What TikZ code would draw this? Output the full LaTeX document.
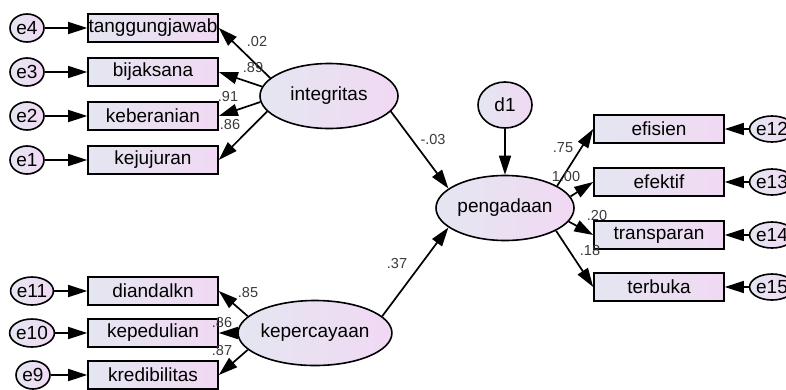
\documentclass[tikz,border=0pt]{standalone}
\usepackage{fontspec}
\setmainfont{Liberation Sans}
\usetikzlibrary{arrows.meta,shapes.geometric}
\definecolor{fillL}{HTML}{E4E6F1}
\definecolor{fillR}{HTML}{F1D9F3}
\definecolor{labgray}{HTML}{3A3A3A}
\begin{document}
\begin{tikzpicture}[x=1pt,y=-1pt,
  obs/.style={draw, line width=1.6pt, minimum width=130pt, minimum height=28pt, inner sep=0pt,
    left color=fillL, right color=fillR, font=\fontsize{19}{21}\selectfont},
  lat/.style={ellipse, draw, line width=1.6pt, inner sep=0pt, minimum width=138pt, minimum height=65pt,
    left color=fillL, right color=fillR, font=\fontsize{19}{21}\selectfont},
  err/.style={ellipse, draw, line width=1.6pt, inner sep=0pt, minimum width=34pt, minimum height=28pt,
    left color=fillL, right color=fillR, font=\fontsize{19}{21}\selectfont},
  arr/.style={line width=1.7pt, -{Triangle[length=19pt,width=12pt]}},
  lbl/.style={font=\fontsize{14.5}{16}\selectfont, text=labgray, inner sep=0pt}]
\useasboundingbox (0,0) rectangle (786,389);

% latent variables
\node[lat] (integ) at (329,96) {integritas};
\node[lat] (keper) at (315,333) {kepercayaan};
\node[lat] (peng) at (505,208) {pengadaan};
\node[err, minimum width=54pt, minimum height=46pt] (d1) at (505,105) {d1};

% left upper indicators
\node[obs] (tg) at (153,28) {tanggungjawab};
\node[obs] (bj) at (153,72) {bijaksana};
\node[obs] (kb) at (153,116) {keberanian};
\node[obs] (kj) at (153,160) {kejujuran};
\node[err] (e4) at (27,28) {e4};
\node[err] (e3) at (27,72) {e3};
\node[err] (e2) at (27,116) {e2};
\node[err] (e1) at (27,160) {e1};

% left lower indicators
\node[obs] (di) at (153,291) {diandalkn};
\node[obs] (kp) at (153,333) {kepedulian};
\node[obs] (kr) at (153,375) {kredibilitas};
\node[err] (e11) at (32,291) {e11};
\node[err] (e10) at (32,333) {e10};
\node[err] (e9) at (33,375) {e9};

% right indicators
\node[obs] (efs) at (659,129) {efisien};
\node[obs] (efk) at (659,182) {efektif};
\node[obs] (tr) at (659,235) {transparan};
\node[obs] (tb) at (659,287) {terbuka};
\node[err, minimum width=30pt, minimum height=26pt] (e12) at (772,129) {e12};
\node[err, minimum width=30pt, minimum height=26pt] (e13) at (772,182) {e13};
\node[err, minimum width=30pt, minimum height=26pt] (e14) at (772,235) {e14};
\node[err, minimum width=30pt, minimum height=26pt] (e15) at (772,287) {e15};

% error arrows
\foreach \e/\b in {e4/tg,e3/bj,e2/kb,e1/kj,e11/di,e10/kp,e9/kr,e12/efs,e13/efk,e14/tr,e15/tb}
  \draw[arr] (\e) -- (\b);

% loadings
\draw[arr] (integ.163) -- (tg.east);
\draw[arr] (integ.172) -- (bj.east);
\draw[arr] (integ.185) -- (kb.east);
\draw[arr] (integ.194) -- (kj.east);
\draw[arr] (keper.166) -- (di.east);
\draw[arr] (keper.180) -- (kp.east);
\draw[arr] (keper.194) -- (kr.east);
\draw[arr] (peng.23) -- (efs.west);
\draw[arr] (peng.10) -- (efk.west);
\draw[arr] (peng.-12) -- (tr.west);
\draw[arr] (peng.-24) -- (tb.west);

% structural
\draw[arr] (integ.346) -- (peng.161);
\draw[arr] (keper.14) -- (peng.199);
\draw[arr] (d1) -- (peng);

% labels
\node[lbl] (l1) at (257,42) {.02};
\node[lbl] (l2) at (253,68) {.89};
\node[lbl] (l3) at (228,97) {.91};
\node[lbl] (l4) at (230,125) {.86};
\node[lbl] (l5) at (433,140) {-.03};
\node[lbl] (l6) at (397,264) {.37};
\node[lbl] (l7) at (248,293) {.85};
\node[lbl] (l8) at (222,322) {.86};
\node[lbl] (l9) at (222,350) {.87};
\node[lbl] (l10) at (563,148) {.75};
\node[lbl] (l11) at (566,177) {1.00};
\node[lbl] (l12) at (597,216) {.20};
\node[lbl] (l13) at (590,251) {.18};
\end{tikzpicture}
\end{document}
